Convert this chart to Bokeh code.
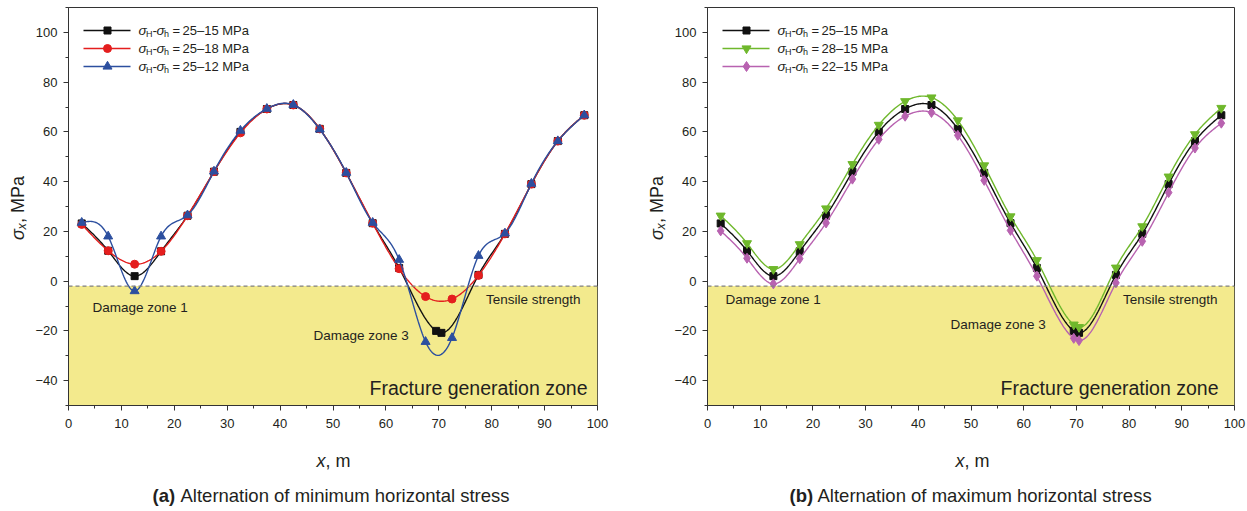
import numpy as np
from bokeh.plotting import figure
from bokeh.layouts import row, column
from bokeh.models import Label, Span, BoxAnnotation, FixedTicker, Range1d
from bokeh.embed import file_html
from bokeh.resources import INLINE

# ---------------- data ----------------
x_pos_ab = [2.5, 7.5, 12.5, 17.5, 22.5, 27.5, 32.5, 37.5, 42.5, 47.5,
            52.5, 57.5, 62.5, 69.5, 70.5, 77.5, 82.5, 87.5, 92.5, 97.5]
x_pos_alt = [2.5, 7.5, 12.5, 17.5, 22.5, 27.5, 32.5, 37.5, 42.5, 47.5,
             52.5, 57.5, 62.5, 67.5, 72.5, 77.5, 82.5, 87.5, 92.5, 97.5]

# (a) alternation of minimum horizontal stress
y_25_15 = [23.2, 12.2, 2.0, 12.0, 26.3, 44.0, 60.0, 69.2, 70.8, 61.2,
           43.5, 23.3, 5.3, -20.0, -20.8, 2.5, 19.0, 39.0, 56.3, 66.7]
y_25_18 = [22.8, 12.2, 6.8, 12.0, 26.3, 44.0, 59.6, 69.2, 70.8, 61.2,
           43.5, 23.3, 5.0, -6.2, -7.2, 2.3, 19.0, 39.0, 56.3, 66.7]
y_25_12 = [23.5, 18.0, -4.0, 18.0, 26.5, 44.1, 60.5, 69.3, 70.9, 61.0,
           43.6, 23.5, 8.6, -24.4, -22.8, 10.2, 19.2, 39.2, 56.3, 66.7]
# (b) alternation of maximum horizontal stress
y_28_15 = [26.3, 15.2, 4.8, 14.8, 29.2, 47.0, 62.8, 72.3, 73.8, 64.6,
           46.5, 26.0, 8.4, -17.5, -18.5, 5.4, 22.0, 42.0, 59.0, 69.6]
y_22_15 = [20.2, 9.2, -1.1, 9.0, 23.4, 41.0, 57.0, 66.3, 67.8, 58.6,
           40.5, 20.4, 2.0, -23.0, -23.9, -0.7, 16.0, 35.6, 53.5, 63.5]

tensile_strength = -2.0
x_ticks = [0, 10, 20, 30, 40, 50, 60, 70, 80, 90, 100]
y_ticks = [-40, -20, 0, 20, 40, 60, 80, 100]

legend_a = [("25", "15"), ("25", "18"), ("25", "12")]
legend_b = [("25", "15"), ("28", "15"), ("22", "15")]

# ---------------- style ----------------
FONT = "Liberation Sans"
TXT = "#231f20"
YELLOW = "#f3ea8d"
BLACK = "#111111"
RED = "#e41e1e"
BLUE = "#2c4f9f"
GREEN = "#6fb82c"
PINK = "#b862b0"

X0, X1, Y0, Y1 = 0, 100, -50, 110
TOP, BOTTOM = 7, 405      # frame top / bottom (page px)
MAIN_H = 440              # height of the plot row
PAGE_H = 511


def spline(x, y, n=500):
    x = np.asarray(x, float)
    y = np.asarray(y, float)
    N = len(x)
    h = np.diff(x)
    A = np.zeros((N, N))
    b = np.zeros(N)
    A[0, 0] = 1
    A[-1, -1] = 1
    for i in range(1, N - 1):
        A[i, i - 1] = h[i - 1]
        A[i, i] = 2 * (h[i - 1] + h[i])
        A[i, i + 1] = h[i]
        b[i] = 3 * ((y[i + 1] - y[i]) / h[i] - (y[i] - y[i - 1]) / h[i - 1])
    c = np.linalg.solve(A, b)
    xs = np.linspace(x[0], x[-1], n)
    idx = np.clip(np.searchsorted(x, xs) - 1, 0, N - 2)
    d = xs - x[idx]
    bc = (y[1:] - y[:-1]) / h - h * (2 * c[:-1] + c[1:]) / 3
    dc = (c[1:] - c[:-1]) / (3 * h)
    ys = y[idx] + bc[idx] * d + c[idx] * d ** 2 + dc[idx] * d ** 3
    return xs, ys


def add_label(p, x, y, text, size, units="data", align="left", baseline="middle",
              style="normal", angle=0.0, xo=0, yo=0, color=TXT):
    p.add_layout(Label(x=x, y=y, x_units=units, y_units=units, text=text, text_font=FONT,
                       text_font_size=f"{size}px", text_align=align,
                       text_baseline=baseline, text_font_style=style,
                       angle=angle, x_offset=xo, y_offset=yo, text_color=color))


def text_panel(w, h, gx0, gy0):
    """A blank figure whose frame is the whole canvas; coordinates = page px."""
    p = figure(width=w, height=h, x_range=Range1d(gx0, gx0 + w), y_range=Range1d(gy0 + h, gy0),
               x_axis_type=None, y_axis_type=None, output_backend="svg",
               toolbar_location=None, min_border=0)
    p.grid.visible = False
    p.outline_line_color = None
    p.background_fill_color = "white"
    p.border_fill_color = "white"

    def lab(gx, gy, text, size, **kw):
        add_label(p, gx, gy, text, size, **kw)
    return p, lab


def make_panel(gx0, fig_w, frame_left, frame_w, series, legend_vals):
    left = frame_left - gx0
    right = fig_w - left - frame_w
    p = figure(width=fig_w, height=MAIN_H, x_range=Range1d(X0, X1), y_range=Range1d(Y0, Y1),
               output_backend="svg", toolbar_location=None,
               min_border_left=left, min_border_right=right,
               min_border_top=TOP, min_border_bottom=MAIN_H - BOTTOM)
    p.grid.visible = False
    p.outline_line_color = "#333333"
    p.outline_line_width = 1
    p.background_fill_color = "white"
    p.border_fill_color = "white"

    p.xaxis.ticker = FixedTicker(ticks=x_ticks, minor_ticks=[v + 5 for v in x_ticks[:-1]])
    p.yaxis.ticker = FixedTicker(ticks=y_ticks, minor_ticks=[-50] + [v + 10 for v in y_ticks])
    for ax in (p.xaxis, p.yaxis):
        ax.axis_line_color = "#333333"
        ax.major_tick_line_color = "#333333"
        ax.minor_tick_line_color = "#333333"
        ax.major_tick_in = 0
        ax.major_tick_out = 5
        ax.minor_tick_in = 0
        ax.minor_tick_out = 3
        ax.major_label_text_font = FONT
        ax.major_label_text_font_size = "13px"
        ax.major_label_text_color = TXT
    p.xaxis.major_label_standoff = 8
    p.yaxis.major_label_standoff = 6

    def dx(gx):
        return X0 + (gx - frame_left) / frame_w * (X1 - X0)

    def dy(gy):
        return Y1 - (gy - TOP) / (BOTTOM - TOP) * (Y1 - Y0)

    def lab(gx, gy, text, size, **kw):
        add_label(p, gx - frame_left, BOTTOM - gy, text, size, units="screen", **kw)

    # fracture generation zone + tensile strength
    p.add_layout(BoxAnnotation(top=tensile_strength, fill_color=YELLOW, fill_alpha=1.0,
                               line_color=None, level="underlay"))
    p.add_layout(Span(location=tensile_strength, dimension="width", line_color="#808080",
                      line_dash="4 3", line_width=1.2))

    for xs_, ys_, color, marker, msize in series:
        sx, sy = spline(xs_, ys_)
        p.line(sx, sy, line_color=color, line_width=1.4)
        p.scatter(xs_, ys_, marker=marker, size=msize, fill_color=color, line_color=color)

    # legend (custom, with subscripts)
    rows_gy = [30, 48, 66]
    for (xs_, ys_, color, marker, msize), (a, b), gy in zip(series, legend_vals, rows_gy):
        p.line([dx(frame_left + 15), dx(frame_left + 62)], [dy(gy), dy(gy)],
               line_color=color, line_width=1.4)
        p.scatter([dx(frame_left + 39)], [dy(gy)], marker=marker, size=msize,
                  fill_color=color, line_color=color)
        tx = frame_left + 70
        lab(tx, gy, "σ", 13.5, style="italic")
        lab(tx + 7.5, gy, "H", 9, yo=-3)
        lab(tx + 14, gy, "-", 13.5)
        lab(tx + 18, gy, "σ", 13.5, style="italic")
        lab(tx + 25.5, gy, "h", 9, yo=-3)
        lab(tx + 34, gy, "=", 13)
        lab(tx + 44, gy, f"{a}–{b} MPa", 13)
    return p, lab


series_a = [
    (x_pos_ab, y_25_15, BLACK, "square", 7),
    (x_pos_alt, y_25_18, RED, "circle", 8),
    (x_pos_alt, y_25_12, BLUE, "triangle", 9),
]
series_b = [
    (x_pos_ab, y_25_15, BLACK, "square", 7),
    (x_pos_ab, y_28_15, GREEN, "inverted_triangle", 9),
    (x_pos_ab, y_22_15, PINK, "diamond", 10),
]

# ---- panel (a) ----
YA_W = 28
ya, labya = text_panel(YA_W, MAIN_H, 0, 0)
pa, laba = make_panel(YA_W, 623 - YA_W, 68, 529, series_a, legend_a)
laba(92, 307, "Damage zone 1", 13.5)
laba(313, 335, "Damage zone 3", 13.5)
laba(580, 299, "Tensile strength", 13.5, align="right")
laba(587, 387, "Fracture generation zone", 19.5, align="right")
labya(17, 257, "σ", 18, baseline="alphabetic", style="italic", angle=np.pi / 2)
labya(17, 257, "x", 12.5, baseline="alphabetic", style="italic", angle=np.pi / 2, xo=4, yo=10.5)
labya(17, 257, ", MPa", 18, baseline="alphabetic", angle=np.pi / 2, yo=17)

ba, labba = text_panel(623, PAGE_H - MAIN_H, 0, MAIN_H)
labba(316, 460, "x", 18, style="italic")
labba(325, 460, ", m", 18)
labba(152, 495, "(a)", 18.5, style="bold")
labba(180, 495, "Alternation of minimum horizontal stress", 18.5)

# ---- panel (b) ----
YB_W = 44
yb, labyb = text_panel(YB_W, MAIN_H, 623, 0)
pb, labb = make_panel(623 + YB_W, 624 - YB_W, 707, 527, series_b, legend_b)
labb(725, 299, "Damage zone 1", 13.5)
labb(950, 324, "Damage zone 3", 13.5)
labb(1217, 299, "Tensile strength", 13.5, align="right")
labb(1218, 387, "Fracture generation zone", 19.5, align="right")
labyb(656, 257, "σ", 18, baseline="alphabetic", style="italic", angle=np.pi / 2)
labyb(656, 257, "x", 12.5, baseline="alphabetic", style="italic", angle=np.pi / 2, xo=4, yo=10.5)
labyb(656, 257, ", MPa", 18, baseline="alphabetic", angle=np.pi / 2, yo=17)

bb, labbb = text_panel(624, PAGE_H - MAIN_H, 623, MAIN_H)
labbb(955, 460, "x", 18, style="italic")
labbb(964, 460, ", m", 18)
labbb(789, 495, "(b)", 18.5, style="bold")
labbb(817, 495, "Alternation of maximum horizontal stress", 18.5)

layout = column(row(ya, pa, yb, pb, spacing=0), row(ba, bb, spacing=0), spacing=0)
open("out.html", "w").write(file_html(layout, INLINE))
